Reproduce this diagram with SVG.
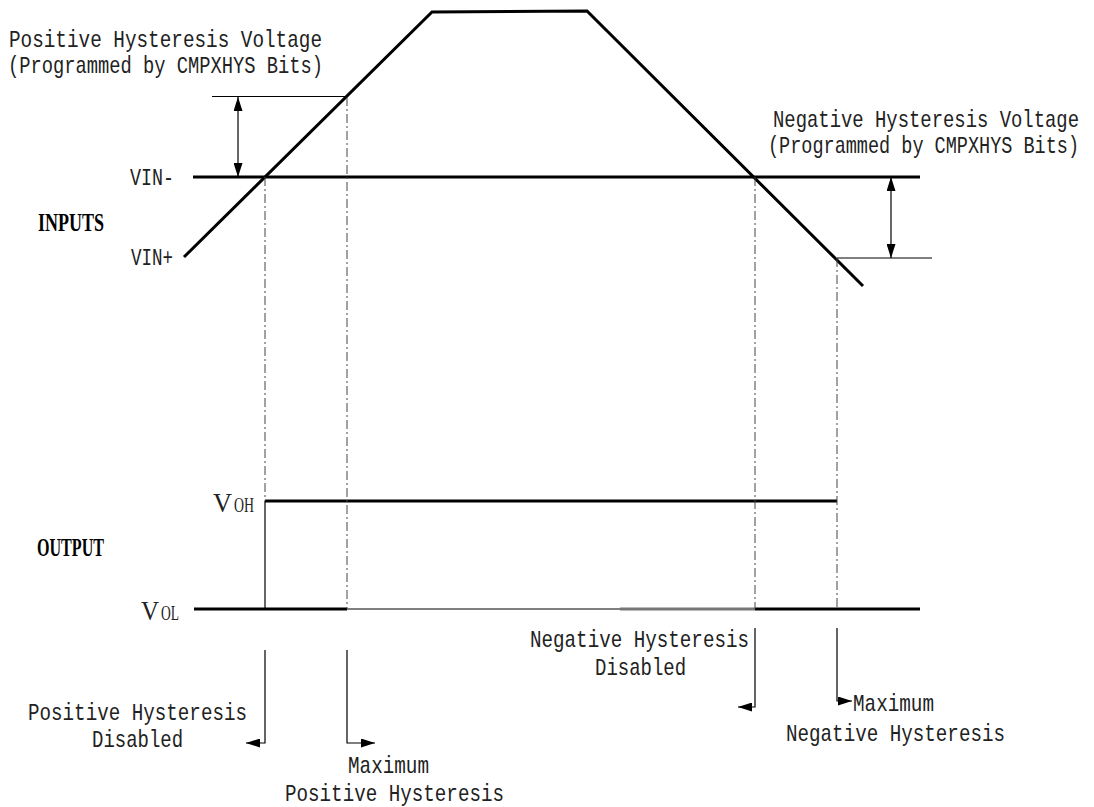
<svg xmlns="http://www.w3.org/2000/svg" width="1094" height="807" viewBox="0 0 1094 807">
<defs>
<marker id="ah" viewBox="0 0 14 9" refX="14" refY="4.5" markerWidth="14" markerHeight="9" markerUnits="userSpaceOnUse" orient="auto-start-reverse"><path d="M0,0 L14,4.5 L0,9 z" fill="#000"/></marker>
<style>
.t{font-family:"Liberation Mono",monospace;font-size:24px;fill:#222}
.b{font-family:"Liberation Serif",serif;font-weight:bold;font-size:25px;fill:#000}
.v{font-family:"Liberation Serif",serif;fill:#222}
.thick{stroke:#000;stroke-width:3;fill:none}
.thin{stroke:#000;stroke-width:1.2;fill:none}
.gray{stroke:#777;stroke-width:3;fill:none}
.dd{stroke:#444;stroke-width:1;stroke-dasharray:9 3 2 3;fill:none}
.arr{stroke:#000;stroke-width:1.2;fill:none}
</style>
</defs>
<rect width="1094" height="807" fill="#fff"/>

<g id="labels">
<text class="t" x="9" y="47" textLength="313" lengthAdjust="spacingAndGlyphs">Positive Hysteresis Voltage</text>
<text class="t" x="8" y="73" textLength="315" lengthAdjust="spacingAndGlyphs">(Programmed by CMPXHYS Bits)</text>
<text class="t" x="773" y="127" textLength="306" lengthAdjust="spacingAndGlyphs">Negative Hysteresis Voltage</text>
<text class="t" x="768" y="153" textLength="311" lengthAdjust="spacingAndGlyphs">(Programmed by CMPXHYS Bits)</text>
<text class="t" x="130" y="185" textLength="44" lengthAdjust="spacingAndGlyphs">VIN-</text>
<text class="t" x="131" y="265" textLength="42" lengthAdjust="spacingAndGlyphs">VIN+</text>
<text class="b" x="38" y="231" textLength="66" lengthAdjust="spacingAndGlyphs">INPUTS</text>
<text class="b" x="37" y="556" textLength="67" lengthAdjust="spacingAndGlyphs">OUTPUT</text>
<text class="v" x="213" y="512" font-size="28" textLength="19" lengthAdjust="spacingAndGlyphs">V</text>
<text class="v" x="234" y="512" font-size="21" textLength="20" lengthAdjust="spacingAndGlyphs">OH</text>
<text class="v" x="141" y="620" font-size="28" textLength="18" lengthAdjust="spacingAndGlyphs">V</text>
<text class="v" x="161" y="620" font-size="21" textLength="18" lengthAdjust="spacingAndGlyphs">OL</text>
<text class="t" x="28" y="720" textLength="219" lengthAdjust="spacingAndGlyphs">Positive Hysteresis</text>
<text class="t" x="92" y="747" textLength="91" lengthAdjust="spacingAndGlyphs">Disabled</text>
<text class="t" x="348" y="773" textLength="81" lengthAdjust="spacingAndGlyphs">Maximum</text>
<text class="t" x="285" y="801" textLength="219" lengthAdjust="spacingAndGlyphs">Positive Hysteresis</text>
<text class="t" x="530" y="647" textLength="219" lengthAdjust="spacingAndGlyphs">Negative Hysteresis</text>
<text class="t" x="595" y="675" textLength="91" lengthAdjust="spacingAndGlyphs">Disabled</text>
<text class="t" x="853" y="711" textLength="81" lengthAdjust="spacingAndGlyphs">Maximum</text>
<text class="t" x="786" y="741" textLength="219" lengthAdjust="spacingAndGlyphs">Negative Hysteresis</text>
</g>

<g id="inputs">
<polyline class="thick" points="184,257 432,12 587,11 863,286"/>
<line class="thick" x1="193" y1="177" x2="920" y2="177"/>
<line class="thin" x1="212" y1="96.5" x2="347" y2="96.5"/>
<line class="thin" x1="837" y1="258" x2="932" y2="258"/>
</g>

<g id="output">
<line class="thick" x1="194" y1="609" x2="347" y2="609"/>
<line class="thin" x1="347" y1="609" x2="620" y2="609"/>
<line class="gray" x1="620" y1="609" x2="755" y2="609"/>
<line class="thick" x1="755" y1="609" x2="920" y2="609"/>
<line class="thick" x1="265" y1="501" x2="837" y2="501"/>
<line class="thin" x1="265" y1="501" x2="265" y2="609"/>
</g>

<g id="connectors">
<line class="dd" x1="265" y1="177" x2="265" y2="501"/>
<line class="dd" x1="347" y1="97" x2="347" y2="609"/>
<line class="dd" x1="755" y1="177" x2="755" y2="609"/>
<line class="dd" x1="837" y1="258" x2="837" y2="609"/>
<line class="arr" x1="238" y1="97" x2="238" y2="177" marker-start="url(#ah)" marker-end="url(#ah)"/>
<line class="arr" x1="891" y1="177" x2="891" y2="258" marker-start="url(#ah)" marker-end="url(#ah)"/>
<path class="arr" d="M265,650 V743 H246" marker-end="url(#ah)"/>
<path class="arr" d="M347,650 V743 H375" marker-end="url(#ah)"/>
<path class="arr" d="M755,628 V707 H738" marker-end="url(#ah)"/>
<path class="arr" d="M837,628 V701 H852" marker-end="url(#ah)"/>
</g>
</svg>
